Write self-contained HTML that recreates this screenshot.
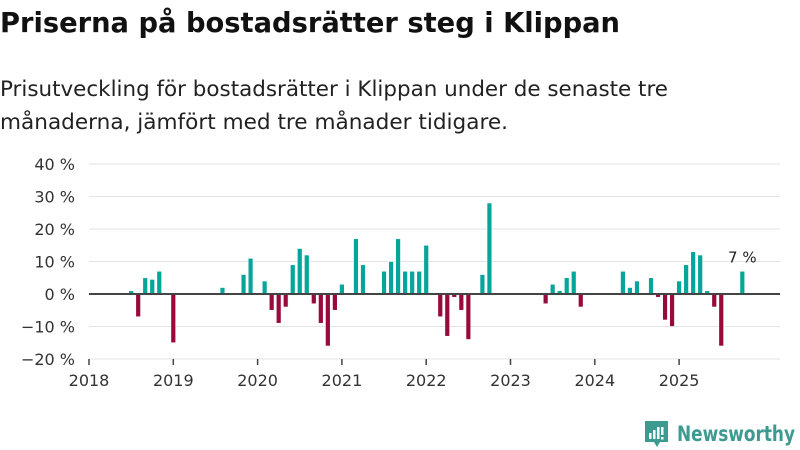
<!DOCTYPE html>
<html><head><meta charset="utf-8"><style>
body{margin:0;background:#fff;}
svg{display:block;font-family:"DejaVu Sans","Liberation Sans",sans-serif;}
</style></head><body>
<svg id="chart" width="800" height="450" viewBox="0 0 800 450">
<text x="0" y="32" font-size="28" font-weight="bold" fill="#111" textLength="620" lengthAdjust="spacingAndGlyphs">Priserna på bostadsrätter steg i Klippan</text>
<text x="0" y="96" font-size="21" fill="#222" textLength="668" lengthAdjust="spacingAndGlyphs">Prisutveckling för bostadsrätter i Klippan under de senaste tre</text>
<text x="0" y="129" font-size="21" fill="#222" textLength="508" lengthAdjust="spacingAndGlyphs">månaderna, jämfört med tre månader tidigare.</text>
<g id="grid"></g>
<g id="bars"></g>
<g id="axes"></g>
<g>
<path d="M645 421h23v21h-8l-3 5-3-5h-9z" fill="#3c9a91"/>
<rect x="649" y="433" width="2.5" height="6" fill="#fff"/>
<rect x="653" y="430" width="2.5" height="9" fill="#fff"/>
<rect x="657" y="427" width="2.5" height="12" fill="#fff"/>
<rect x="661" y="427" width="2.5" height="8" fill="#fff"/>
<rect x="661" y="437" width="2.5" height="2.5" fill="#fff"/>
<text x="677" y="441" font-size="21" font-weight="bold" fill="#3c9a91" textLength="118" lengthAdjust="spacingAndGlyphs">Newsworthy</text>
</g>
</svg>
<script>
const startYear = 2018;
// monthly values starting Jan 2018; null = no data
const values = [
null,null,null,null,null,null,1,-7,5,4.5,7,null,
-15,null,null,null,null,null,null,2,null,null,6,11,
null,4,-5,-9,-4,9,14,12,-3,-9,-16,-5,
3,null,17,9,null,null,7,10,17,7,7,7,
15,null,-7,-13,-1,-5,-14,null,6,28,null,null,
null,null,null,null,null,-3,3,1,5,7,-4,null,
null,null,null,null,7,2,4,null,5,-1,-8,-10,
4,9,13,12,1,-4,-16,null,null,7
];
const yTicks = [40,30,20,10,0,-10,-20];
const xYears = [2018,2019,2020,2021,2022,2023,2024,2025];
const lastLabel = "7 %";

const NS = "http://www.w3.org/2000/svg";
const x0 = 89, yearW = 84.3, xEnd = 780;
const xScale = m => x0 + m * yearW / 12;
const yScale = v => 294 - v * 3.25;
function mk(tag, attrs, parent){const e=document.createElementNS(NS,tag);for(const k in attrs)e.setAttribute(k,attrs[k]);parent.appendChild(e);return e;}
const grid=document.getElementById('grid'), bars=document.getElementById('bars'), axes=document.getElementById('axes');
yTicks.forEach(t=>{
  if(t!==0 && t!==-20){const l=mk('line',{x1:x0,x2:xEnd,y1:yScale(t),y2:yScale(t),stroke:'#e3e3e3','stroke-width':1},grid);
  
  }
  const tx=mk('text',{x:75,y:yScale(t)+6,'font-size':16,fill:'#333','text-anchor':'end'},axes);
  tx.textContent=(t<0?'\u2212'+(-t):t)+' %';
  
  
});
const bl=mk('line',{x1:x0,x2:xEnd,y1:yScale(-20),y2:yScale(-20),stroke:'#e3e3e3','stroke-width':1},axes);


values.forEach((v,i)=>{
  if(v===null)return;
  const cx=xScale(i), y=yScale(Math.max(v,0)), h=Math.abs(yScale(v)-yScale(0));
  const r=mk('rect',{x:cx-2.4,y:y,width:4.8,height:Math.max(h,0.8),fill:v>=0?'#06a59a':'#990a3c',stroke:'#fff','stroke-width':0.6},bars);
  
  
});
const zl=mk('line',{x1:x0,x2:xEnd,y1:yScale(0),y2:yScale(0),stroke:'#444','stroke-width':2},axes);


xYears.forEach((yr,i)=>{
  const x=xScale((yr-startYear)*12);
  const tk=mk('line',{x1:x,x2:x,y1:yScale(-20),y2:yScale(-20)+6,stroke:'#444','stroke-width':1.5},axes);
  
  
  const tx=mk('text',{x:x,y:386,'font-size':16,fill:'#333','text-anchor':'middle'},axes);
  tx.textContent=yr;
  
  
});
let li=values.length-1; while(values[li]===null)li--;
const lab=mk('text',{x:xScale(li),y:yScale(values[li])-9,'font-size':15,fill:'#222','text-anchor':'middle'},axes);
lab.textContent=lastLabel;


</script>
</body></html>
